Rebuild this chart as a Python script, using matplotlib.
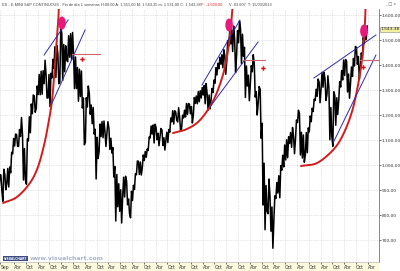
import numpy as np
import matplotlib.pyplot as plt
from matplotlib.patches import Ellipse, Rectangle

# monthly high / low of the E-mini S&P, Aug 1997 .. Mar 2013
high = [961, 960, 983, 963, 986,
        992, 1051, 1106, 1124, 1122, 1142, 1190, 1121, 1066, 1104, 1193, 1244,
        1280, 1276, 1316, 1362, 1375, 1377, 1419, 1360, 1362, 1367, 1423, 1473,
        1478, 1445, 1553, 1527, 1482, 1477, 1517, 1525, 1530, 1441, 1432, 1390,
        1383, 1376, 1268, 1269, 1316, 1287, 1240, 1230, 1143, 1111, 1164, 1174,
        1176, 1131, 1173, 1147, 1107, 1070, 994, 962, 925, 901, 951, 955,
        935, 864, 895, 919, 965, 1016, 1015, 1012, 1040, 1054, 1064, 1112,
        1156, 1160, 1163, 1150, 1127, 1146, 1140, 1109, 1131, 1142, 1188, 1217,
        1217, 1212, 1229, 1191, 1199, 1219, 1246, 1246, 1243, 1234, 1270, 1276,
        1294, 1297, 1310, 1318, 1326, 1284, 1280, 1306, 1340, 1389, 1407, 1431,
        1441, 1461, 1438, 1498, 1535, 1541, 1556, 1504, 1538, 1576, 1545, 1523,
        1471, 1396, 1359, 1397, 1441, 1405, 1293, 1314, 1303, 1167, 1007, 918,
        944, 875, 832, 877, 930, 957, 997, 1039, 1080, 1101, 1113, 1130,
        1150, 1113, 1180, 1219, 1206, 1131, 1120, 1130, 1148, 1196, 1227, 1263,
        1303, 1344, 1332, 1370, 1371, 1345, 1357, 1307, 1230, 1293, 1278, 1269,
        1333, 1378, 1420, 1422, 1415, 1364, 1392, 1426, 1474, 1470, 1434, 1448,
        1510, 1530, 1556]
low = [893, 898, 855, 901, 926,
       912, 969, 1045, 1076, 1075, 1074, 1114, 940, 939, 923, 1096, 1129,
       1205, 1211, 1226, 1282, 1281, 1283, 1325, 1268, 1268, 1234, 1348, 1387,
       1350, 1325, 1329, 1339, 1373, 1420, 1413, 1431, 1421, 1305, 1306, 1255,
       1274, 1228, 1081, 1091, 1232, 1203, 1165, 1124, 944, 1026, 1054, 1114,
       1109, 1074, 1130, 1063, 1048, 952, 776, 833, 815, 768, 873, 872,
       841, 806, 789, 858, 902, 961, 962, 960, 990, 1018, 1031, 1058,
       1108, 1124, 1088, 1101, 1077, 1113, 1078, 1060, 1101, 1090, 1131, 1173,
       1164, 1180, 1172, 1137, 1146, 1188, 1192, 1202, 1205, 1168, 1201, 1246,
       1245, 1253, 1268, 1280, 1245, 1219, 1224, 1261, 1290, 1327, 1360, 1385,
       1403, 1389, 1363, 1416, 1476, 1484, 1454, 1370, 1439, 1489, 1406, 1435,
       1270, 1316, 1257, 1325, 1373, 1272, 1200, 1247, 1107, 840, 741, 815,
       805, 735, 667, 783, 866, 888, 869, 979, 992, 1020, 1029, 1086,
       1071, 1045, 1106, 1170, 1040, 1028, 1011, 1040, 1049, 1132, 1173, 1214,
       1258, 1275, 1249, 1303, 1311, 1258, 1282, 1101, 1114, 1075, 1159, 1202,
       1258, 1312, 1340, 1358, 1292, 1267, 1326, 1354, 1396, 1403, 1343, 1385,
       1426, 1485, 1501]
months = 1997 + (7 + np.arange(len(high)) + 0.5) / 12

# parabolic support curves (year, price)
curve1_t = [1997.78, 1998.37, 1998.92, 1999.26, 1999.52, 1999.69, 1999.86, 1999.98, 2000.11, 2000.15]
curve1_p = [848, 872, 928, 992, 1080, 1160, 1260, 1400, 1560, 1640]
curve2_t = [2004.99, 2005.58, 2006.14, 2006.69, 2007.07, 2007.28, 2007.41, 2007.49, 2007.54]
curve2_p = [1128, 1144, 1180, 1256, 1348, 1432, 1520, 1600, 1660]
curve3_t = [2010.42, 2011.10, 2011.78, 2012.20, 2012.58, 2012.84, 2013.01, 2013.09, 2013.14, 2013.16]
curve3_p = [996, 1008, 1060, 1120, 1212, 1320, 1420, 1500, 1580, 1640]

# blue trend lines: (t0, p0, t1, p1)
blue_lines = [(1999.52, 1440, 2000.54, 1580), (1999.86, 1248, 2001.26, 1540),
              (2006.22, 1320, 2007.83, 1580), (2006.56, 1232, 2008.60, 1492),
              (2010.97, 1348, 2013.60, 1520), (2011.78, 1088, 2013.60, 1440)]
# horizontal breakdown levels: (t0, t1, price)
levels = [(2000.71, 2001.89, 1444), (2007.96, 2008.89, 1420), (2012.92, 2013.69, 1420)]
arrows_t = [2001.13, 2008.81, 2013.05]
arrows_p = [1424, 1388, 1392]
circles_t = [2000.28, 2007.37, 2013.09]
circles_p = [1568, 1560, 1536]

yticks = [700, 800, 900, 1000, 1100, 1200, 1300, 1400, 1500, 1600]
last_price = 1543.38


def es_fmt(v):
    s = f"{v:,.2f}"
    return s.replace(",", "X").replace(".", ",").replace("X", ".")


def smooth(xs, ys, n=20):
    # catmull-rom through the read points, done in pixel-like scaled space
    sx, sy = 23.57, 0.25
    px = np.array(xs) * sx
    py = np.array(ys) * sy
    px = np.r_[2 * px[0] - px[1], px, 2 * px[-1] - px[-2]]
    py = np.r_[2 * py[0] - py[1], py, 2 * py[-1] - py[-2]]
    ox, oy = [], []
    u = np.linspace(0, 1, n, endpoint=False)
    for i in range(1, len(px) - 2):
        for arr, out in ((px, ox), (py, oy)):
            p0, p1, p2, p3 = arr[i - 1:i + 3]
            out.extend(0.5 * (2 * p1 + (-p0 + p2) * u + (2 * p0 - 5 * p1 + 4 * p2 - p3) * u ** 2
                              + (-p0 + 3 * p1 - 3 * p2 + p3) * u ** 3))
    ox.append(px[-2])
    oy.append(py[-2])
    return np.array(ox) / sx, np.array(oy) / sy


fig = plt.figure(figsize=(4, 2.71), dpi=100, facecolor="white")
ax = fig.add_axes([0, 9 / 271, 379 / 400, 253 / 271])
fig.patches.append(Rectangle((0, 0), 379 / 400, 9 / 271, transform=fig.transFigure,
                             facecolor="#fcfadc", edgecolor="none", zorder=-1))

# price path: zigzag through each month's low and high
zt, zp = [], []
for i in range(len(high)):
    rising = i == 0 or high[i] >= high[i - 1]
    first, second = (low[i], high[i]) if rising else (high[i], low[i])
    zt += [months[i] - 0.02, months[i] + 0.02]
    zp += [first, second]
ax.plot(zt, zp, color="black", lw=1.1)

for ct, cp in [(curve1_t, curve1_p), (curve2_t, curve2_p), (curve3_t, curve3_p)]:
    st, sp = smooth(ct, cp)
    ax.plot(st, sp, color="#d41c1c", lw=1.4, solid_capstyle="round")
for t0, p0, t1, p1 in blue_lines:
    ax.plot([t0, t1], [p0, p1], color="#2c2cb0", lw=0.7)
for t0, t1, p in levels:
    ax.plot([t0, t1], [p, p], color="#cc6666", lw=0.8)
ax.plot(arrows_t, arrows_p, ls="none", marker="P", ms=3.2, color="#e01010", mew=0)
for ct, cp in zip(circles_t, circles_p):
    ax.add_patch(Ellipse((ct, cp), 0.32, 52, facecolor="#e8187c", edgecolor="none", zorder=5))

ax.set_xlim(1997.65, 1997.65 + 379 / 23.57)
ax.set_ylim(612, 1624)

xt = [1997 + 8 / 12]
xl = ["Sep"]
for y in range(1998, 2014):
    xt += [y + 0.25, y + 0.75]
    xl += ["Abr", "Oct"]
xt = xt[:-1]
xl = xl[:-1]
ax.set_xticks(xt)
ax.set_xticklabels(xl)
for lab in ax.get_xticklabels():
    lab.set_ha("left")
ax.set_yticks(yticks)
ax.set_yticklabels([es_fmt(v) for v in yticks])
ax.yaxis.tick_right()
ax.tick_params(axis="both", labelsize=3.2, colors="#333333", length=1.5, width=0.5, pad=0.5)
ax.tick_params(axis="x", labelsize=3.3, pad=0.5)
ax.grid(True, color="#cccccc", ls=(0, (1, 1.5)), lw=0.5)
ax.set_axisbelow(True)
for side in ["left", "top"]:
    ax.spines[side].set_visible(False)
ax.spines["right"].set_color("#777777")
ax.spines["bottom"].set_color("#bbbbbb")
ax.spines["right"].set_linewidth(0.6)
ax.spines["bottom"].set_linewidth(0.5)

ax.text(1.003, last_price, es_fmt(last_price), transform=ax.get_yaxis_transform(),
        fontsize=3.1, va="center", ha="left", color="#222222",
        bbox=dict(boxstyle="square,pad=0.12", fc="#f4f0a0", ec="#888888", lw=0.4))

# header line
hy = 1 - 4.5 / 271
fig.text(2 / 400, hy,
         "ES - E-MINI S&P CONTINUOUS - Fin de día 1 semanas H:00:00 A: 1.551,00 "
         "M: 1.563,25 m: 1.531,00 C: 1.543,38",
         fontsize=2.8, color="#444444", va="center", ha="left", family="Liberation Sans")
fig.text(201 / 400, hy, "P: -1.600,00", fontsize=2.8, color="#dd2222",
         va="center", ha="left", family="Liberation Sans")
fig.text(229 / 400, hy, "V: 63.607  T: 15/03/2013", fontsize=2.8,
         color="#444444", va="center", ha="left", family="Liberation Sans")
fig.text(396 / 400, hy, "_ \u25a1 x", fontsize=3, color="#666666",
         va="center", ha="right")

# watermark
fig.text(4 / 400, 12.5 / 271, "VISUALCHART", fontsize=2.2, color="white", va="center",
         ha="left", weight="bold",
         bbox=dict(boxstyle="square,pad=0.2", fc="#3a4a80", ec="none"))
fig.text(30 / 400, 12.5 / 271, "www.visualchart.com", fontsize=4.4, color="#a8b4cc",
         va="center", ha="left", weight="bold")

fig.savefig("out.png", dpi=100, facecolor="white")
